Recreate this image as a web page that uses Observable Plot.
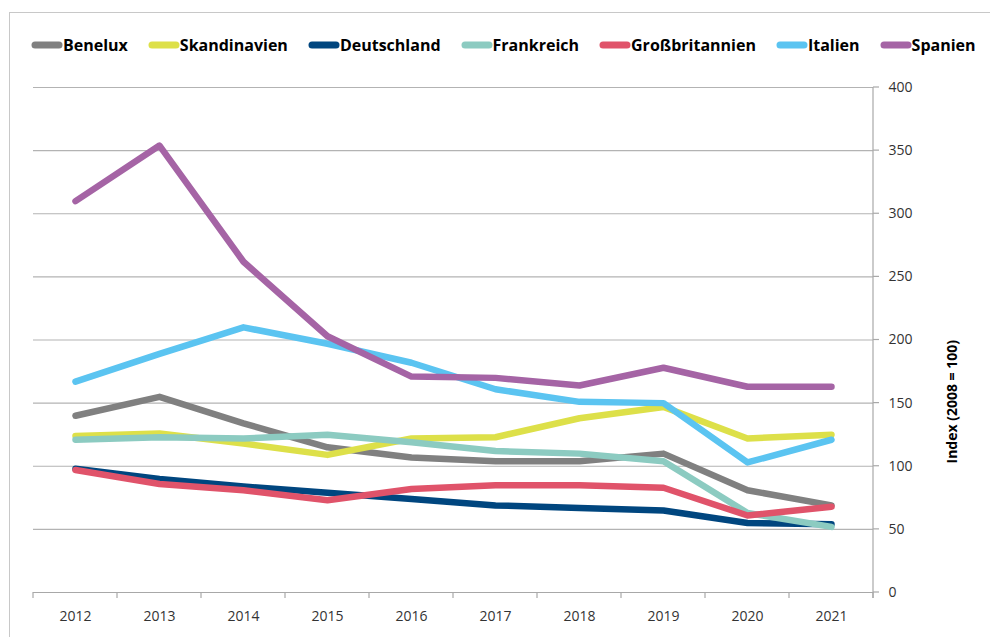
<!DOCTYPE html>
<html>
<head>
<meta charset="utf-8">
<script src="https://cdn.jsdelivr.net/npm/d3@7"></script>
<script src="https://cdn.jsdelivr.net/npm/@observablehq/plot@0.6"></script>
<style>
  html, body { margin: 0; padding: 0; background: #fff; }
  body { width: 990px; height: 637px; overflow: hidden; position: relative; font-family: "Open Sans", sans-serif; }
  #frame { position: absolute; left: 9px; top: 12px; width: 1000px; height: 700px; border-left: 1px solid #c8c8c8; border-top: 1px solid #c8c8c8; pointer-events: none; }
  #legend { position: relative; height: 70px; display: flex; align-items: center; padding-left: 31px; padding-top: 20px; box-sizing: border-box; gap: 20px; }
  .item { display: flex; align-items: center; font-weight: 700; font-size: 16px; color: #000; white-space: nowrap; }
  .item svg { display: block; margin-right: 0; }
  #chart svg { display: block; overflow: visible; }
  #chart g[aria-label^="y-axis"] text, #chart g[aria-label^="x-axis"] text { fill: #333; }
</style>
</head>
<body>
<div id="frame"></div>
<div id="legend"></div>
<div id="chart"></div>
<script>
const years = ["2012","2013","2014","2015","2016","2017","2018","2019","2020","2021"];
const seriesNames = ["Benelux","Skandinavien","Deutschland","Frankreich","Großbritannien","Italien","Spanien"];
const seriesColors = ["#808080","#dde049","#00467f","#8ccbc1","#e0536a","#5bc4f1","#a564a5"];
const benelux       = [140,155,134,115,107,104,104,110,81,69];
const skandinavien  = [124,126,118,109,122,123,138,147,122,125];
const deutschland   = [98,90,84,79,74,69,67,65,55,54];
const frankreich    = [121,123,122,125,119,112,110,104,63,52];
const grossbritannien = [97,86,81,73,82,85,85,83,61,68];
const italien       = [167,189,210,197,182,161,151,150,103,121];
const spanien       = [310,354,262,203,171,170,164,178,163,163];
const yTicks = [0,50,100,150,200,250,300,350,400];
const yLabel = "Index (2008 = 100)";

const seriesValues = [benelux, skandinavien, deutschland, frankreich, grossbritannien, italien, spanien];
const table = seriesNames.flatMap((name, i) => years.map((yr, j) => ({series: name, year: yr, value: seriesValues[i][j]})));

// Legend
const legend = document.getElementById("legend");
seriesNames.forEach((name, i) => {
  const item = document.createElement("div");
  item.className = "item";
  item.innerHTML = `<svg width="32" height="10"><line x1="4" y1="5" x2="28" y2="5" stroke="${seriesColors[i]}" stroke-width="7" stroke-linecap="round"/></svg><span>${name}</span>`;
  legend.appendChild(item);
});

const plot = Plot.plot({
  width: 990,
  height: 567,
  marginTop: 17,
  marginBottom: 45,
  marginLeft: 33,
  marginRight: 117,
  style: {fontFamily: "'Open Sans', sans-serif", fontSize: "14px", background: "transparent", overflow: "visible"},
  x: {type: "band", domain: years, padding: 0, tickSize: 0, tickPadding: 19, label: null},
  y: {domain: [0, 400], ticks: yTicks, axis: "right", tickSize: 0, tickPadding: 15, label: null, tickFormat: d => String(d)},
  marks: [
    Plot.ruleY(yTicks.filter(d => d > 0), {stroke: "#b3b3b3", strokeWidth: 1.2}),
    Plot.ruleY([0], {stroke: "#a8a8a8", strokeWidth: 1.2}),
    ...seriesNames.map((name, i) => Plot.line(table.filter(d => d.series === name), {
      x: "year", y: "value", stroke: seriesColors[i], strokeWidth: 6.5,
      strokeLinecap: "round", strokeLinejoin: "round"
    })),
    Plot.text([yLabel], {frameAnchor: "right", dx: 79, rotate: -90, fontWeight: "bold", fontSize: 14, fill: "#000"})
  ]
});
document.getElementById("chart").appendChild(plot);

// Axis lines and ticks drawn from the library's scales
const xs = plot.scale("x");
const ys = plot.scale("y");
const y0 = ys.apply(0);
const xRight = xs.range[1];
const bounds = years.map(yr => xs.apply(yr)).concat([xs.apply(years[years.length - 1]) + xs.bandwidth]);
const svg = d3.select(plot.tagName.toLowerCase() === "svg" ? plot : plot.querySelector("svg"));
const g = svg.append("g").attr("stroke", "#a8a8a8").attr("stroke-width", 1.2);
g.selectAll("line.xb").data(bounds).join("line").attr("class", "xb")
  .attr("x1", d => d).attr("x2", d => d)
  .attr("y1", y0).attr("y2", y0 + 6);
g.append("line").attr("x1", xRight).attr("x2", xRight).attr("y1", ys.apply(400)).attr("y2", y0 + 6);
g.selectAll("line.yt").data(yTicks).join("line").attr("class", "yt")
  .attr("x1", xRight).attr("x2", xRight + 6)
  .attr("y1", d => ys.apply(d)).attr("y2", d => ys.apply(d));
</script>
</body>
</html>
